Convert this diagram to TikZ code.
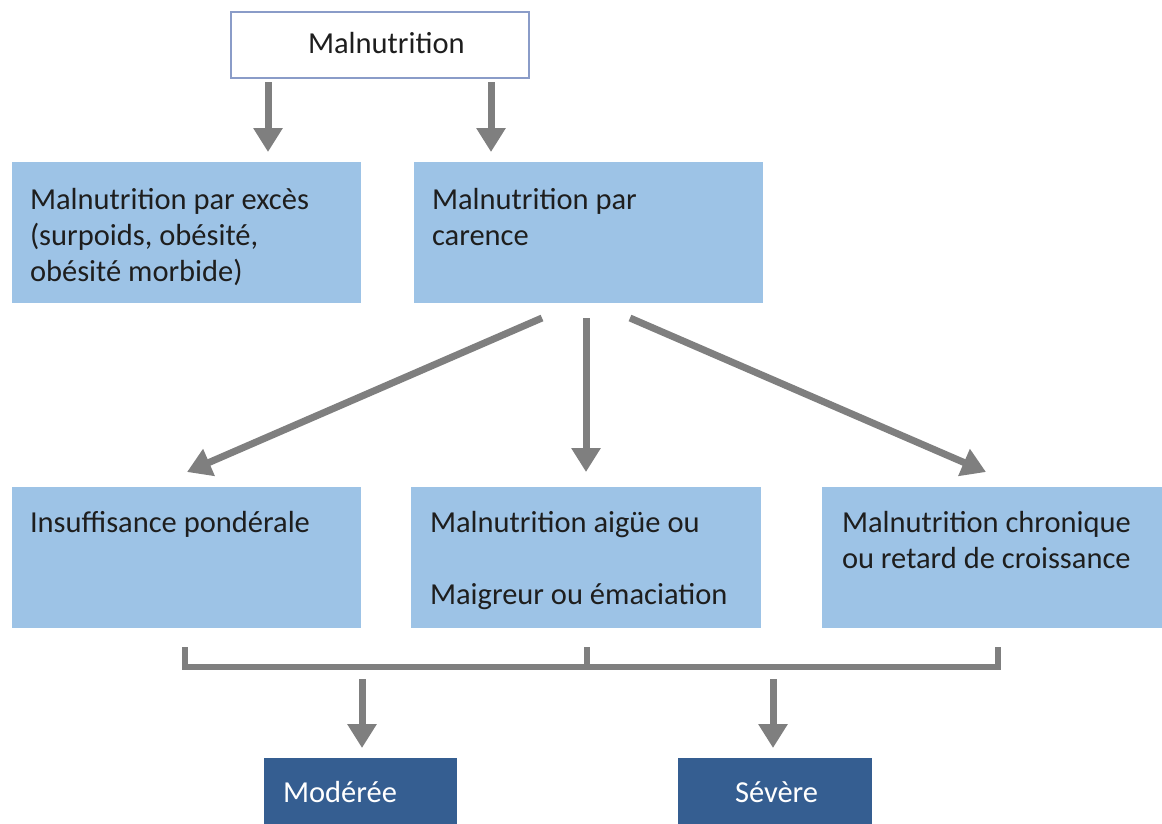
\documentclass[tikz,border=0pt]{standalone}
\usepackage{fontspec}
\setmainfont{Carlito}
\usetikzlibrary{arrows.meta}
\definecolor{lightbox}{HTML}{9DC3E6}
\definecolor{darkbox}{HTML}{355E91}
\definecolor{framecol}{HTML}{8A9CC8}
\definecolor{arrowgray}{HTML}{7F7F7F}
\definecolor{textcol}{HTML}{1E1E1E}
\begin{document}
\begin{tikzpicture}[x=1pt,y=-1pt,
  every node/.style={inner sep=0pt, outer sep=0pt, font=\fontsize{30.5}{36}\selectfont},
  box/.style={rectangle, anchor=north west},
  topbox/.style={box, draw=framecol, line width=1.2pt, fill=white},
  lightbox/.style={box, fill=lightbox},
  darkbox/.style={box, fill=darkbox},
  txt/.style={anchor=base west, text=textcol},
  wtxt/.style={anchor=base west, text=white},
  arr/.style={draw=arrowgray, line width=7pt, -{Triangle[width=28pt,length=24pt]}},
  bracket/.style={draw=arrowgray, line width=6pt, line join=miter}]
\useasboundingbox (0,0) rectangle (1162,823);

% top box
\node[topbox, minimum width=298pt, minimum height=66pt] (mal) at (231,12) {};
\node[txt] (malt) at (308,53) {Malnutrition};

% second row
\node[lightbox, minimum width=349pt, minimum height=141pt] (exces) at (12,162) {};
\node[txt] (exces1) at (30,209) {Malnutrition par excès};
\node[txt] (exces2) at (30,245) {(surpoids, obésité,};
\node[txt] (exces3) at (30,281) {obésité morbide)};

\node[lightbox, minimum width=349pt, minimum height=141pt] (carence) at (414,162) {};
\node[txt] (carence1) at (432,209) {Malnutrition par};
\node[txt] (carence2) at (432,245) {carence};

% third row
\node[lightbox, minimum width=349pt, minimum height=141pt] (insuf) at (12,487) {};
\node[txt] (insuft) at (30,532) {Insuffisance pondérale};

\node[lightbox, minimum width=350pt, minimum height=141pt] (aigue) at (411,487) {};
\node[txt] (aigue1) at (430,532) {Malnutrition aigüe ou};
\node[txt] (aigue2) at (430,604) {Maigreur ou émaciation};

\node[lightbox, minimum width=340pt, minimum height=141pt] (chron) at (822,487) {};
\node[txt] (chron1) at (842,532) {Malnutrition chronique};
\node[txt] (chron2) at (842,568) {ou retard de croissance};

% bottom row
\node[darkbox, minimum width=193pt, minimum height=66pt] (mod) at (264,758) {};
\node[wtxt] (modt) at (283,802) {Modérée};
\node[darkbox, minimum width=194pt, minimum height=66pt] (sev) at (678,758) {};
\node[wtxt] (sevt) at (735,802) {Sévère};

% arrow start points
\coordinate (m1) at (268,82);
\coordinate (m2) at (491,82);
\coordinate (c1) at (542,318);
\coordinate (c2) at (586,318);
\coordinate (c3) at (630,318);
\coordinate (b1) at (362,679);
\coordinate (b2) at (773,679);
% arrow tips
\coordinate (t1) at (187,472);
\coordinate (t3) at (986,472);

\draw[arr, shorten >=10pt] (m1) -- (m1 |- exces.north);
\draw[arr, shorten >=10pt] (m2) -- (m2 |- carence.north);
\draw[arr] (c1) -- (t1);
\draw[arr, shorten >=15pt] (c2) -- (c2 |- aigue.north);
\draw[arr] (c3) -- (t3);

% bracket joining the three forms
\draw[bracket] (185,647) -- (185,667) -- (998,667) -- (998,647);
\draw[bracket] (587,647) -- (587,667);

\draw[arr, shorten >=10pt] (b1) -- (b1 |- mod.north);
\draw[arr, shorten >=10pt] (b2) -- (b2 |- sev.north);
\end{tikzpicture}
\end{document}
